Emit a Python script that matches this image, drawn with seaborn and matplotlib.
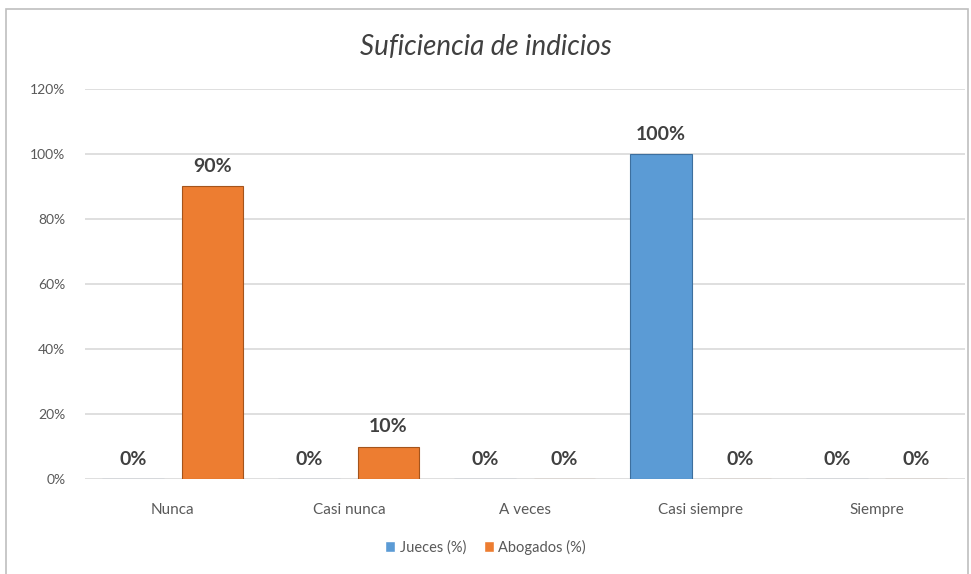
import pandas as pd
import seaborn as sns
import matplotlib.pyplot as plt
import matplotlib.patches as mpatches
from matplotlib.ticker import FuncFormatter

categories = ['Nunca', 'Casi nunca', 'A veces', 'Casi siempre', 'Siempre']
jueces = [0, 0, 0, 100, 0]
abogados = [90, 10, 0, 0, 0]
series_names = ['Jueces (%)', 'Abogados (%)']

df = pd.DataFrame({
    'categoria': categories * 2,
    'valor': jueces + abogados,
    'grupo': [series_names[0]] * len(categories) + [series_names[1]] * len(categories),
})

sns.set_theme(style='white')
plt.rcParams['font.family'] = ['Lato', 'DejaVu Sans']

fig = plt.figure(figsize=(9.71, 5.74), dpi=100)
ax = fig.add_axes([0.0875, 0.1655, 0.906, 0.6795])

palette = {'Jueces (%)': '#5B9BD5', 'Abogados (%)': '#ED7D31'}
sns.barplot(data=df, x='categoria', y='valor', hue='grupo', order=categories,
            hue_order=series_names, palette=palette, width=0.9, gap=0.22,
            saturation=1, linewidth=0.8, ax=ax, legend=False)

# darker outline per series + value labels
for cont, ec in zip(ax.containers, ['#3d6f9e', '#a4541c']):
    for bar in cont:
        bar.set_edgecolor(ec)
    vals = [b.get_height() for b in cont]
    ax.bar_label(cont, labels=[f'{int(round(v))}%' for v in vals], padding=8,
                 fontsize=14, fontweight='bold', color='#404040')

ax.set_ylim(0, 120)
ax.set_xlim(-0.5, 4.5)
ax.set_yticks(range(0, 121, 20))
ax.yaxis.set_major_formatter(FuncFormatter(lambda v, p: f'{int(v)}%'))
ax.yaxis.grid(True, color='#D9D9D9', linewidth=1.2)
ax.set_axisbelow(True)
for s in ax.spines.values():
    s.set_visible(False)
ax.tick_params(axis='both', length=0, labelcolor='#595959')
ax.tick_params(axis='y', pad=14, labelsize=10)
ax.tick_params(axis='x', pad=17, labelsize=11)
ax.set_xlabel('')
ax.set_ylabel('')

fig.text(0.5, 0.918, 'Suficiencia de indicios', ha='center', va='center',
         fontsize=20, style='italic', color='#404040')

handles = [mpatches.Patch(facecolor=palette[n], label=n) for n in series_names]
fig.legend(handles=handles, loc='center', bbox_to_anchor=(0.5, 0.047), ncol=2,
           frameon=False, fontsize=10.5, labelcolor='#595959', handlelength=0.7,
           handleheight=0.7, handletextpad=0.3, columnspacing=1.2)

fig.patches.append(mpatches.Rectangle((0.006, -0.01), 0.991, 0.995, transform=fig.transFigure,
                                      fill=False, edgecolor='#BFBFBF', linewidth=1.2))

fig.savefig('out.png', dpi=100)
